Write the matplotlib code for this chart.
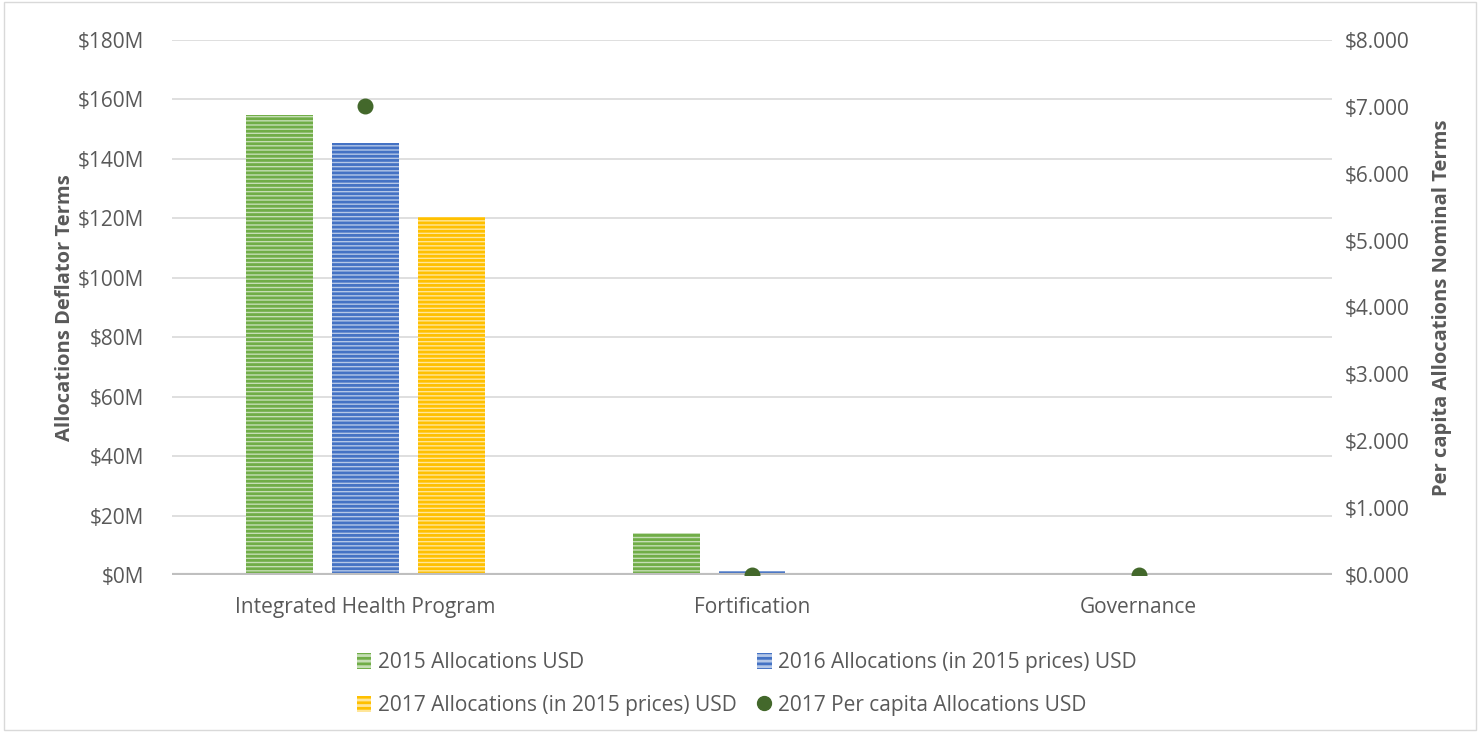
import matplotlib
matplotlib.use("Agg")
import matplotlib.pyplot as plt
import numpy as np
from matplotlib.ticker import FuncFormatter, MultipleLocator
from matplotlib.patches import Patch
from matplotlib.lines import Line2D

plt.rcParams['font.family'] = ['Open Sans', 'DejaVu Sans']
plt.rcParams['hatch.linewidth'] = 2.0

categories = ["Integrated Health Program", "Fortification", "Governance"]
alloc_2015 = [154.9, 14.1, 0.3]
alloc_2016 = [145.4, 1.3, 0.2]
alloc_2017 = [120.5, 0.2, 0.1]
per_capita_2017 = [7.02, 0.0, 0.0]

series_names = ["2015 Allocations USD", "2016 Allocations (in 2015 prices) USD",
                "2017 Allocations (in 2015 prices) USD", "2017 Per capita Allocations USD"]
colors = ["#70AD47", "#4472C4", "#FFC000"]
light = ["#C5DEB5", "#B4C7E7", "#FFE699"]
dot_color = "#43682B"
txt = "#595959"

fig = plt.figure(figsize=(14.8, 7.32), dpi=100)
ax = fig.add_axes([0.1162, 0.2145, 0.9 - 0.1162, 0.9454 - 0.2145])
ax2 = ax.twinx()

x = np.arange(len(categories))
w = 0.173
off = 0.222
for i, (vals, c, lc) in enumerate(zip([alloc_2015, alloc_2016, alloc_2017], colors, light)):
    ax.bar(x + (i - 1) * off, vals, width=w, color=lc, edgecolor=c, hatch='----',
           linewidth=0, zorder=3)

ax2.scatter(x, per_capita_2017, s=110, color=dot_color, zorder=5)

ax.set_xlim(-0.5, 2.5)
ax.set_ylim(0, 180)
ax2.set_ylim(0, 8)
ax.yaxis.set_major_locator(MultipleLocator(20))
ax2.yaxis.set_major_locator(MultipleLocator(1))
ax.yaxis.set_major_formatter(FuncFormatter(lambda v, p: f"${v:.0f}M"))
ax2.yaxis.set_major_formatter(FuncFormatter(lambda v, p: f"${v:.3f}"))
ax.set_xticks(x)
ax.set_xticklabels(categories)

for a in (ax, ax2):
    for s in a.spines.values():
        s.set_visible(False)
    a.tick_params(length=0, labelsize=15, colors=txt)
ax.tick_params(axis='y', pad=20)
ax2.tick_params(axis='y', pad=9)
ax.tick_params(axis='x', pad=16)
ax.grid(axis='y', color="#D9D9D9", linewidth=1.2, zorder=0)
ax.set_axisbelow(True)
ax.axhline(0, color="#BFBFBF", linewidth=3, zorder=4)

ax.set_ylabel("Allocations Deflator Terms", fontsize=14.5, fontweight='bold', color=txt, labelpad=2)
ax2.set_ylabel("Per capita Allocations Nominal Terms", fontsize=14.5, fontweight='bold', color=txt, labelpad=16)

handles = [Patch(facecolor=light[i], edgecolor=colors[i], hatch='---', linewidth=0) for i in range(3)]
handles.append(Line2D([], [], marker='o', linestyle='none', color=dot_color, markersize=10))
order = [0, 2, 1, 3]
fig.legend([handles[i] for i in order], [series_names[i] for i in order], ncol=2,
           loc='upper left', bbox_to_anchor=(0.241, 0.109),
           frameon=False, fontsize=15, labelcolor=txt, handlelength=0.7, handleheight=0.8,
           handletextpad=0.3, columnspacing=1.0, labelspacing=1.05, borderaxespad=0, borderpad=0)

fig.patches.append(plt.Rectangle((0.003, 0.003), 0.994, 0.994, transform=fig.transFigure,
                                 fill=False, edgecolor="#D9D9D9", linewidth=1))
fig.savefig("out.png", dpi=100)
